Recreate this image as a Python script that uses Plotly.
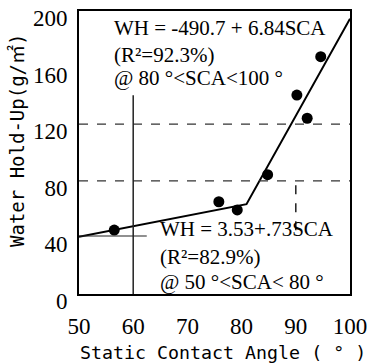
import plotly.graph_objects as go

# Measured data points (static contact angle, water hold-up)
sca = [56.5, 75.8, 79.2, 84.8, 90.2, 92.1, 94.6]
wh = [45.2, 65.2, 59.4, 84.3, 140.6, 124.2, 167.7]

# Piecewise regression line
fit_x = [50, 80.9, 100]
fit_y = [40.5, 63.5, 194.5]

x_ticks = [50, 60, 70, 80, 90, 100]
y_ticks = [0, 40, 80, 120, 160, 200]

x_title = "Static Contact Angle ( ° )"
y_title = "Water Hold-Up(g/㎡)"
top_eq = ["WH = -490.7 + 6.84SCA", "(R²=92.3%)", "@ 80 °<SCA<100 °"]
bot_eq = ["WH = 3.53+.73SCA", "(R²=82.9%)", "@ 50 °<SCA< 80 °"]

fig = go.Figure()
fig.add_trace(go.Scatter(x=fit_x, y=fit_y, mode="lines",
                         line=dict(color="black", width=2), showlegend=False,
                         cliponaxis=False, hoverinfo="skip"))
fig.add_trace(go.Scatter(x=sca, y=wh, mode="markers",
                         marker=dict(color="black", size=11), showlegend=False))

serif = "Liberation Serif, Times New Roman, serif"
mono = "DejaVu Sans Mono, Noto Sans CJK JP, monospace"

# dashed reference lines and guide marks from the scan
shapes = [
    dict(type="line", xref="x", yref="y", x0=50, x1=100, y0=120, y1=120,
         line=dict(color="#333", width=1.2, dash="dash")),
    dict(type="line", xref="x", yref="y", x0=50, x1=100, y0=80, y1=80,
         line=dict(color="#333", width=1.2, dash="dash")),
    dict(type="line", xref="x", yref="y", x0=60, x1=60, y0=0, y1=140.5,
         line=dict(color="#222", width=1.5)),
    dict(type="line", xref="x", yref="y", x0=50, x1=62.5, y0=41, y1=41,
         line=dict(color="#222", width=1.2)),
    dict(type="line", xref="x", yref="y", x0=90, x1=90, y0=45, y1=80,
         line=dict(color="#222", width=1.5, dash="dash")),
]

annotations = []
top_y = [188.0, 169.2, 152.8]
bot_y = [45.8, 26.0, 8.4]
for t, yv in zip(top_eq, top_y):
    annotations.append(dict(x=56.1, y=yv, xref="x", yref="y", text=t, showarrow=False,
                            xanchor="left", yanchor="middle",
                            font=dict(family=serif, size=21, color="black")))
for t, yv in zip(bot_eq, bot_y):
    annotations.append(dict(x=64.65, y=yv, xref="x", yref="y", text=t, showarrow=False,
                            xanchor="left", yanchor="middle",
                            font=dict(family=serif, size=21, color="black")))

# axis titles
annotations.append(dict(x=0.53, y=-0.205, xref="paper", yref="paper", text=x_title,
                        showarrow=False, xanchor="center", yanchor="middle",
                        font=dict(family=mono, size=18.3, color="black")))
annotations.append(dict(x=-0.229, y=0.544, xref="paper", yref="paper", text=y_title,
                        showarrow=False, xanchor="center", yanchor="middle", textangle=-90,
                        font=dict(family=mono, size=19, color="black")))

fig.update_layout(
    width=369, height=364,
    margin=dict(l=79, r=19, t=11, b=70, autoexpand=False),
    paper_bgcolor="white", plot_bgcolor="white",
    shapes=shapes, annotations=annotations,
    xaxis=dict(range=[50, 100], tickvals=x_ticks, showgrid=False, zeroline=False,
               showline=True, linecolor="black", linewidth=2, mirror=True,
               ticks="", ticklabelstandoff=10, automargin=False,
               tickfont=dict(family=serif, size=23, color="black")),
    yaxis=dict(range=[0, 200], tickvals=y_ticks, showgrid=False, zeroline=False,
               showline=True, linecolor="black", linewidth=2, mirror=True,
               ticks="", ticklabelstandoff=5, ticklabelshift=7, automargin=False,
               tickfont=dict(family=serif, size=23, color="black")),
)

fig.write_html(
    "out.html",
    config={"displayModeBar": False},
    post_script="document.body.style.margin='0';document.body.style.overflow='hidden';",
)
